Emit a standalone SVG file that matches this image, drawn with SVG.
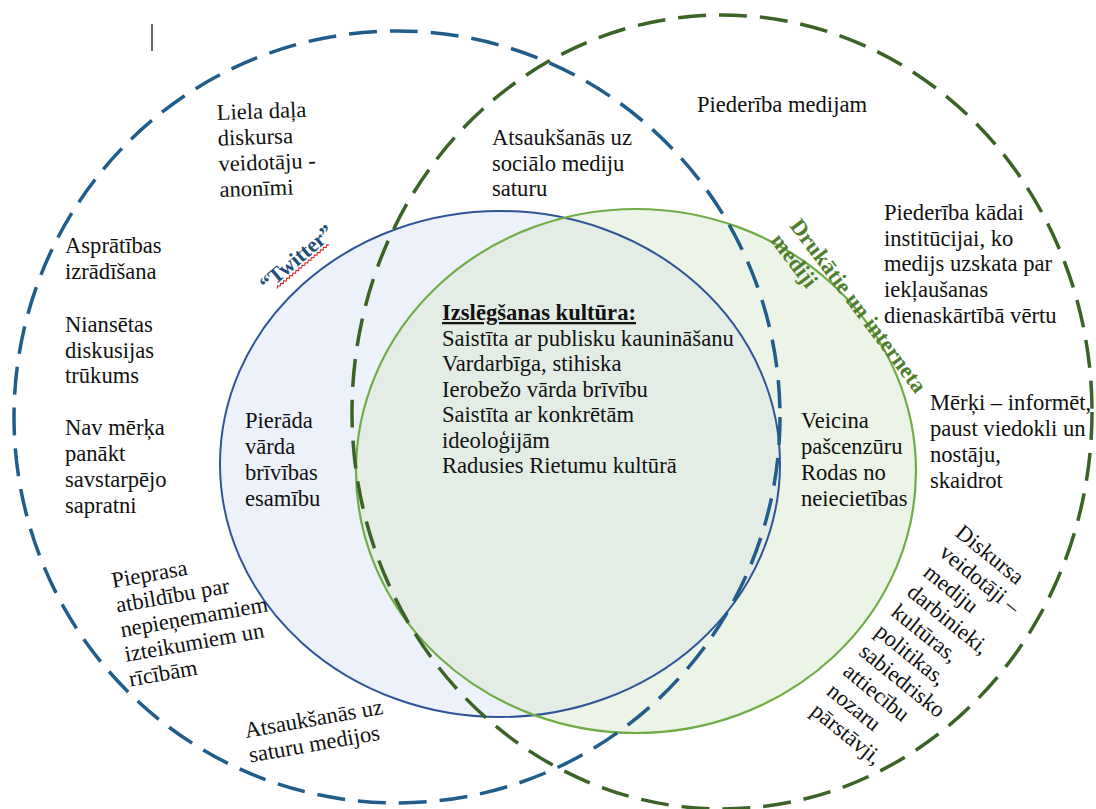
<svg xmlns="http://www.w3.org/2000/svg" width="1096" height="809" viewBox="0 0 1096 809">
<style>
text{font-family:'Liberation Serif','DejaVu Serif','Noto Serif','Times New Roman',Times,serif;font-size:22.6px;fill:#111111}
.b{font-weight:bold}
.dashB{fill:none;stroke:#215D8B;stroke-width:3.5;stroke-dasharray:28 13}
.dashG{fill:none;stroke:#3B6326;stroke-width:3.5;stroke-dasharray:28 13}
</style>
<rect width="1096" height="809" fill="#ffffff"/>
<g id="fills">
<ellipse cx="500" cy="464" rx="280" ry="253" fill="#EDF2FA"/>
<ellipse cx="636" cy="471" rx="280" ry="262" fill="#D9E8D0" fill-opacity="0.5"/>
</g>
<g id="twitter-set">
<ellipse cx="500" cy="464" rx="280" ry="253" fill="none" stroke="#2F5597" stroke-width="2"/>
</g>
<g id="media-set">
<ellipse cx="636" cy="471" rx="280" ry="262" fill="none" stroke="#70AD47" stroke-width="2.2"/>
</g>
<g id="twitter-outer">
<ellipse cx="397" cy="417" rx="383" ry="386" class="dashB"/>
</g>
<g id="media-outer">
<ellipse cx="722" cy="412" rx="370" ry="397" class="dashG"/>
</g>
<line x1="152" y1="24" x2="152" y2="51" stroke="#333" stroke-width="1.5"/>
<g id="twitter-label" transform="rotate(-40 267 292)">
<text class="b" x="267" y="292" style="fill:#1F4E79;font-size:21.5px">“Twitter”</text>
<path d="M277,296 l2,-2 l2,2 l2,-2 l2,2 l2,-2 l2,2 l2,-2 l2,2 l2,-2 l2,2 l2,-2 l2,2 l2,-2 l2,2 l2,-2 l2,2 l2,-2 l2,2 l2,-2 l2,2 l2,-2 l2,2 l2,-2 l2,2 l2,-2 l2,2 l2,-2 l2,2 l2,-2 l2,2 l2,-2 l2,2 l2,-2 l2,2" fill="none" stroke="#E02020" stroke-width="1"/>
</g>
<g id="media-label" transform="rotate(53 789 226)">
<text class="b" x="789" y="226" style="fill:#4F7F2E">Drukātie un interneta<tspan x="789" dy="24">mediji</tspan></text>
</g>
<g id="anon">
<text x="217" y="120" transform="rotate(-2 217 120)"><tspan x="217">Liela daļa</tspan><tspan x="217" dy="25.7">diskursa</tspan><tspan x="217" dy="25.7">veidotāju -</tspan><tspan x="217" dy="25.7">anonīmi</tspan></text>
</g>
<g id="social-ref">
<text x="492" y="145"><tspan x="492">Atsaukšanās uz</tspan><tspan x="492" dy="25.5">sociālo mediju</tspan><tspan x="492" dy="25.5">saturu</tspan></text>
</g>
<g id="belong-media">
<text x="697" y="112">Piederība medijam</text>
</g>
<g id="belong-inst">
<text x="884" y="220"><tspan x="884">Piederība kādai</tspan><tspan x="884" dy="25.7">institūcijai, ko</tspan><tspan x="884" dy="25.7">medijs uzskata par</tspan><tspan x="884" dy="25.7">iekļaušanas</tspan><tspan x="884" dy="25.7">dienaskārtībā vērtu</tspan></text>
</g>
<g id="goals">
<text x="930" y="410"><tspan x="930">Mērķi – informēt,</tspan><tspan x="930" dy="26">paust viedokli un</tspan><tspan x="930" dy="26">nostāju,</tspan><tspan x="930" dy="26">skaidrot</tspan></text>
</g>
<g id="wit">
<text x="65" y="253"><tspan x="65">Asprātības</tspan><tspan x="65" dy="26">izrādīšana</tspan></text>
</g>
<g id="nuance">
<text x="65" y="332"><tspan x="65">Niansētas</tspan><tspan x="65" dy="25.5">diskusijas</tspan><tspan x="65" dy="25.5">trūkums</tspan></text>
</g>
<g id="no-goal">
<text x="65" y="435"><tspan x="65">Nav mērķa</tspan><tspan x="65" dy="26">panākt</tspan><tspan x="65" dy="26">savstarpējo</tspan><tspan x="65" dy="26">sapratni</tspan></text>
</g>
<g id="proves">
<text x="245" y="428"><tspan x="245">Pierāda</tspan><tspan x="245" dy="26">vārda</tspan><tspan x="245" dy="26">brīvības</tspan><tspan x="245" dy="26">esamību</tspan></text>
</g>
<g id="self-censor">
<text x="801" y="428"><tspan x="801">Veicina</tspan><tspan x="801" dy="26">pašcenzūru</tspan><tspan x="801" dy="26">Rodas no</tspan><tspan x="801" dy="26">neiecietības</tspan></text>
</g>
<g id="cancel-culture">
<text x="442" y="320"><tspan x="442" class="b" text-decoration="underline">Izslēgšanas kultūra:</tspan><tspan x="442" dy="25.5">Saistīta ar publisku kaunināšanu</tspan><tspan x="442" dy="25.5">Vardarbīga, stihiska</tspan><tspan x="442" dy="25.5">Ierobežo vārda brīvību</tspan><tspan x="442" dy="25.5">Saistīta ar konkrētām</tspan><tspan x="442" dy="25.5">ideoloģijām</tspan><tspan x="442" dy="25.5">Radusies Rietumu kultūrā</tspan></text>
</g>
<g id="accountability">
<text x="113" y="588" transform="rotate(-10 113 588)"><tspan x="113">Pieprasa</tspan><tspan x="113" dy="25">atbildību par</tspan><tspan x="113" dy="25">nepieņemamiem</tspan><tspan x="113" dy="25">izteikumiem un</tspan><tspan x="113" dy="25">rīcībām</tspan></text>
</g>
<g id="media-ref">
<text x="246" y="738" transform="rotate(-10 246 738)"><tspan x="246">Atsaukšanās uz</tspan><tspan x="246" dy="25">saturu medijos</tspan></text>
</g>
<g id="creators">
<text x="954" y="535" transform="rotate(39 954 535)"><tspan x="954">Diskursa</tspan><tspan x="954" dy="25.5">veidotāji –</tspan><tspan x="954" dy="25.5">mediju</tspan><tspan x="954" dy="25.5">darbinieki,</tspan><tspan x="954" dy="25.5">kultūras,</tspan><tspan x="954" dy="25.5">politikas,</tspan><tspan x="954" dy="25.5">sabiedrisko</tspan><tspan x="954" dy="25.5">attiecību</tspan><tspan x="954" dy="25.5">nozaru</tspan><tspan x="954" dy="25.5">pārstāvji,</tspan></text>
</g>
</svg>
